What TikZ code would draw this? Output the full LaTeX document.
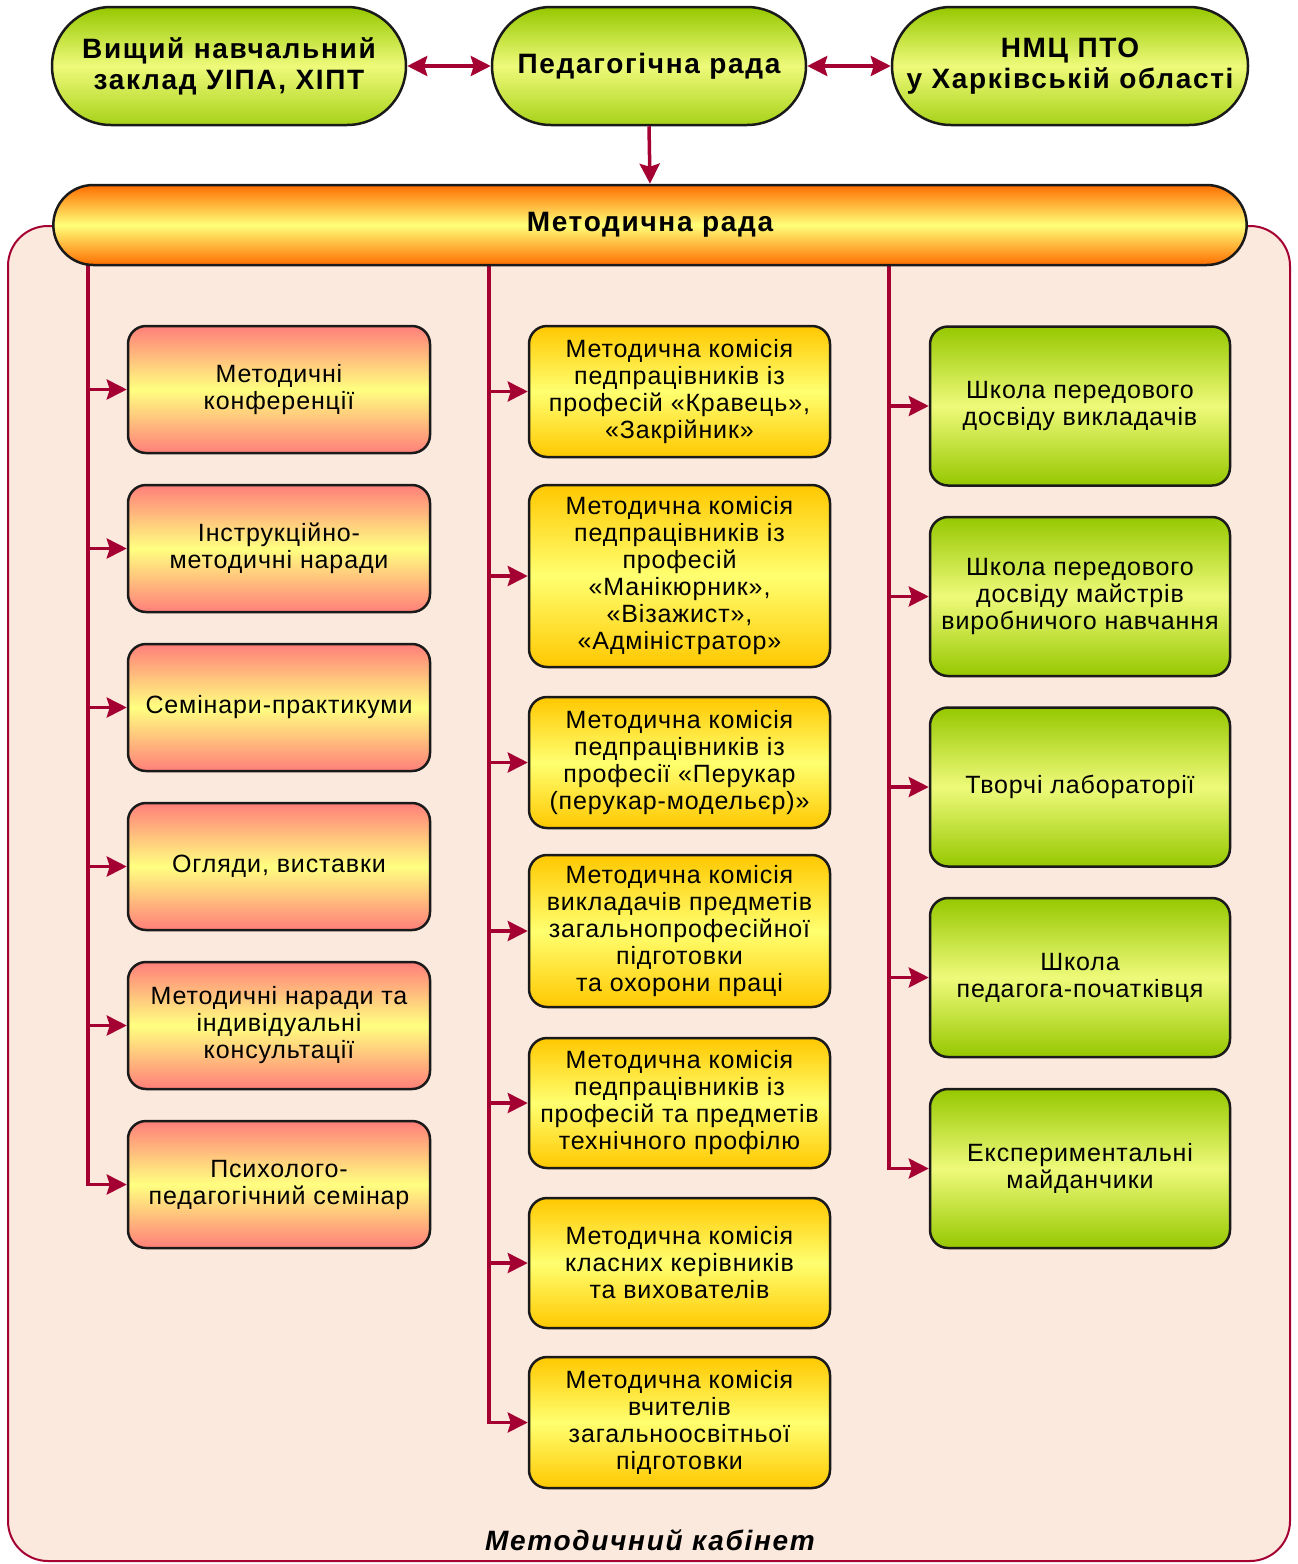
\documentclass[tikz,border=0pt]{standalone}
\usepackage{fontspec}
\setmainfont{Liberation Sans}
\newfontfamily\boxfont[LetterSpace=3.5]{Liberation Sans}
\newfontfamily\headfont[LetterSpace=6]{Liberation Sans}
\usetikzlibrary{arrows.meta,shapes.misc}
\definecolor{mred}{HTML}{A50032}
\definecolor{peach}{HTML}{FCE9DD}
\definecolor{boxline}{HTML}{1A1A1A}
\definecolor{greenD}{HTML}{96C800}
\definecolor{greenL}{HTML}{EEFA7A}
\definecolor{orangeD}{HTML}{FF6E00}
\definecolor{orangeL}{HTML}{FFFF78}
\definecolor{salmon}{HTML}{FF7F7A}
\definecolor{salmonL}{HTML}{FFFF80}
\definecolor{goldD}{HTML}{FFC800}
\definecolor{goldL}{HTML}{FFFF70}
\begin{document}
\begin{tikzpicture}[x=1pt,y=-1pt,
  box/.style={draw=boxline, line width=2.5pt, rounded corners=18pt, align=center,
    inner sep=1pt, font=\boxfont\fontsize{25}{27}\selectfont, shade},
  lbox/.style={box, minimum width=302pt, minimum height=127pt,
    top color=salmon, bottom color=salmon, middle color=salmonL},
  mbox/.style={box, minimum width=301pt,
    top color=goldD, bottom color=goldD, middle color=goldL},
  rbox/.style={box, minimum width=300pt, minimum height=159pt,
    top color=greenD, bottom color=greenD, middle color=greenL},
  topnode/.style={rounded rectangle, draw=boxline, line width=2.5pt, shade,
    top color=greenD, bottom color=greenD!80!greenL, middle color=greenL,
    minimum height=118pt, align=center, inner sep=2pt,
    font=\headfont\bfseries\fontsize{28}{31}\selectfont},
  conn/.style={draw=mred, line width=3.5pt,
    -{Stealth[length=20pt,width=20pt,inset=3pt]}},
  dconn/.style={draw=mred, line width=3.5pt,
    {Stealth[length=20pt,width=20pt,inset=3pt]}-{Stealth[length=20pt,width=20pt,inset=3pt]}},
]
\useasboundingbox (0,0) rectangle (1298,1564);
% background cabinet
\draw[draw=mred, line width=2pt, fill=peach, rounded corners=40pt] (8,226) rectangle (1290,1561);

% top nodes
\node[topnode, minimum width=358pt] (T1) at (229,66) {Вищий навчальний\\заклад УІПА, ХІПТ};
\node[topnode, minimum width=318pt] (T2) at (649,66) {Педагогічна рада};
\node[topnode, minimum width=360pt] (T3) at (1070,66) {НМЦ ПТО\\у Харківській області};

% spines coordinates
\coordinate (sL) at (88,262);
\coordinate (sM) at (489,262);
\coordinate (sR) at (889,262);

% left column
\node[lbox] (L1) at (279,389.5) {Методичні\\конференції};
\node[lbox] (L2) at (279,548.5) {Інструкційно-\\методичні наради};
\node[lbox] (L3) at (279,707.5) {Семінари-практикуми};
\node[lbox] (L4) at (279,866.5) {Огляди, виставки};
\node[lbox] (L5) at (279,1025.5) {Методичні наради та\\індивідуальні\\консультації};
\node[lbox] (L6) at (279,1184.5) {Психолого-\\педагогічний семінар};

% middle column
\node[mbox, minimum height=131pt] (M1) at (679.5,391.5) {Методична комісія\\педпрацівників із\\професій «Кравець»,\\«Закрійник»};
\node[mbox, minimum height=182pt] (M2) at (679.5,576) {Методична комісія\\педпрацівників із\\професій\\«Манікюрник»,\\«Візажист»,\\«Адміністратор»};
\node[mbox, minimum height=131pt] (M3) at (679.5,762.5) {Методична комісія\\педпрацівників із\\професії «Перукар\\(перукар-модельєр)»};
\node[mbox, minimum height=152pt] (M4) at (679.5,931) {Методична комісія\\викладачів предметів\\загальнопрофесійної\\підготовки\\та охорони праці};
\node[mbox, minimum height=130pt] (M5) at (679.5,1103) {Методична комісія\\педпрацівників із\\професій та предметів\\технічного профілю};
\node[mbox, minimum height=130pt] (M6) at (679.5,1263) {Методична комісія\\класних керівників\\та вихователів};
\node[mbox, minimum height=131pt] (M7) at (679.5,1422.5) {Методична комісія\\вчителів\\загальноосвітньої\\підготовки};

% right column
\node[rbox] (R1) at (1080,406) {Школа передового\\досвіду викладачів};
\node[rbox] (R2) at (1080,596.5) {Школа передового\\досвіду майстрів\\виробничого навчання};
\node[rbox] (R3) at (1080,787) {Творчі лабораторії};
\node[rbox] (R4) at (1080,977.5) {Школа\\педагога-початківця};
\node[rbox] (R5) at (1080,1168.5) {Експериментальні\\майданчики};

% connectors from spines
\foreach \i in {1,...,6} \draw[conn] (sL) |- (L\i.west);
\foreach \i in {1,...,7} \draw[conn] (sM) |- (M\i.west);
\foreach \i in {1,...,5} \draw[conn] (sR) |- (R\i.west);

% methodical council (drawn over spine tops)
\node[rounded rectangle, draw=boxline, line width=2.5pt, shade,
  top color=orangeD, bottom color=orangeD, middle color=orangeL,
  minimum width=1200pt, minimum height=80pt,
  font=\headfont\bfseries\fontsize{28}{31}\selectfont] (MR) at (650,225) {Методична рада};

% top connectors
\draw[dconn] (T1.east) -- (T2.west);
\draw[dconn] (T2.east) -- (T3.west);
\draw[conn] (T2.south) -- (MR.north);

% label
\node[font=\headfont\bfseries\itshape\fontsize{28}{30}\selectfont] (cab) at (650,1540) {Методичний кабінет};
\end{tikzpicture}
\end{document}
